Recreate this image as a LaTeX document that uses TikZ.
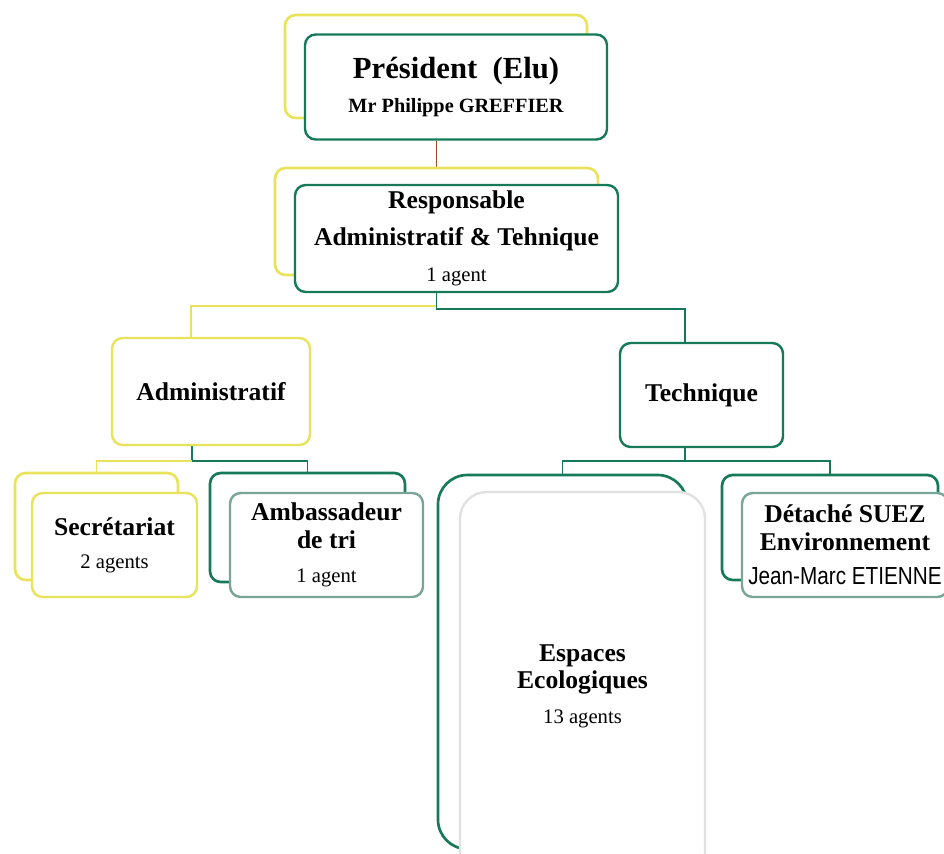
\documentclass[tikz,border=0pt]{standalone}
\usepackage{fontspec}
\setmainfont{Liberation Serif}
\newfontfamily\narrowsans[FakeStretch=0.84]{Liberation Sans}
\usetikzlibrary{backgrounds}

\definecolor{boxyellow}{RGB}{233,227,92}
\definecolor{boxgreen}{RGB}{22,122,88}
\definecolor{boxteal}{RGB}{120,165,152}
\definecolor{boxgrey}{RGB}{224,226,224}
\definecolor{linkbrown}{RGB}{150,72,32}

\tikzset{
  backbox/.style={draw=#1, fill=white, rounded corners=8pt, line width=2pt, inner sep=0pt},
  frontbox/.style={draw=#1, fill=white, rounded corners=8pt, line width=1.8pt, inner sep=0pt,
    align=center, font={\bfseries\fontsize{19.2}{20.5}\selectfont}},
  link/.style={draw=#1, line width=1.4pt}
}
\newcommand{\agentline}[1]{{\mdseries\fontsize{15.5}{18}\selectfont #1}}

\begin{document}
\begin{tikzpicture}[x=0.75pt,y=-0.75pt]

\useasboundingbox (0,0) rectangle (944,853);

\node [backbox=boxyellow, minimum width=226.5pt, minimum height=77.25pt] (pres-outer)
 at (436,66.5) {};
\node [frontbox=boxgreen, minimum width=226.5pt, minimum height=78.75pt] (pres)
 at (456,87) {{\fontsize{23}{24}\selectfont Président\ \ (Elu)}\\[4.5pt]{\fontsize{15.2}{17}\selectfont Mr Philippe GREFFIER}};


\node [backbox=boxyellow, minimum width=242.25pt, minimum height=80.25pt] (resp-outer)
 at (436.5,221.5) {};
\node [frontbox=boxgreen, minimum width=242.25pt, minimum height=80.25pt] (resp)
 at (456.5,238.5) {Responsable\\[7pt]Administratif \& Tehnique\\[7pt]\agentline{1 agent}};


\node [frontbox=boxyellow, minimum width=148.5pt, minimum height=80.25pt] (admin)
 at (211,391.5) {Administratif};

\node [frontbox=boxgreen, minimum width=122.25pt, minimum height=78pt] (tech)
 at (701.5,395) {Technique};


\node [backbox=boxyellow, minimum width=122.25pt, minimum height=80.25pt] (secr-outer)
 at (96.5,526.5) {};
\node [frontbox=boxyellow, minimum width=123.75pt, minimum height=78pt] (secr)
 at (114.5,545) {Secrétariat\\[4pt]\agentline{2 agents}};

\node [backbox=boxgreen, minimum width=146.25pt, minimum height=81.75pt] (ambas-outer)
 at (307.5,527.5) {};
\node [frontbox=boxteal, minimum width=144.75pt, minimum height=78pt] (ambas)
 at (326.5,545) {Ambassadeur\\de tri\\[5pt]\agentline{1 agent}};

\node [backbox=boxgreen, rounded corners=22pt, minimum width=186.75pt, minimum height=280.5pt] (esp-outer)
 at (562.5,662) {};
\node [frontbox=boxgrey, rounded corners=20pt, minimum width=183.75pt, minimum height=291pt] (esp)
 at (582.5,686) {Espaces\\Ecologiques\\[5.5pt]\agentline{13 agents}};

\node [backbox=boxgreen, minimum width=162pt, minimum height=78.75pt] (det-outer)
 at (830,527.5) {};
\node [frontbox=boxteal, minimum width=154.5pt, minimum height=78pt] (det)
 at (845,545) {Détaché SUEZ\\Environnement\\[5.5pt]{\mdseries\narrowsans\fontsize{18.5}{20}\selectfont Jean-Marc ETIENNE}};


\begin{pgfonlayer}{background}
\draw [link=linkbrown] (resp-outer.north) -- (resp-outer.north |- pres.south);
\draw [link=boxyellow] (resp-outer.south) -- ++(0,30) -| ([xshift=-15pt]admin.north);
\draw [link=boxgreen] (resp.south -| resp-outer.south) -- ++(0,16) -| ([xshift=-12.4pt]tech.north);

\draw [link=boxgreen] ([xshift=-14pt]admin.south) -- ++(0,15) coordinate (admin-fork) -| (ambas-outer.north);
\draw [link=boxyellow] (admin-fork) -| (secr-outer.north);

\draw [link=boxgreen] ([xshift=-12.4pt]tech.south) -- ++(0,13) coordinate (tech-fork) -| (esp-outer.north);
\draw [link=boxgreen] (tech-fork) -| (det-outer.north);
\end{pgfonlayer}

\end{tikzpicture}
\end{document}
